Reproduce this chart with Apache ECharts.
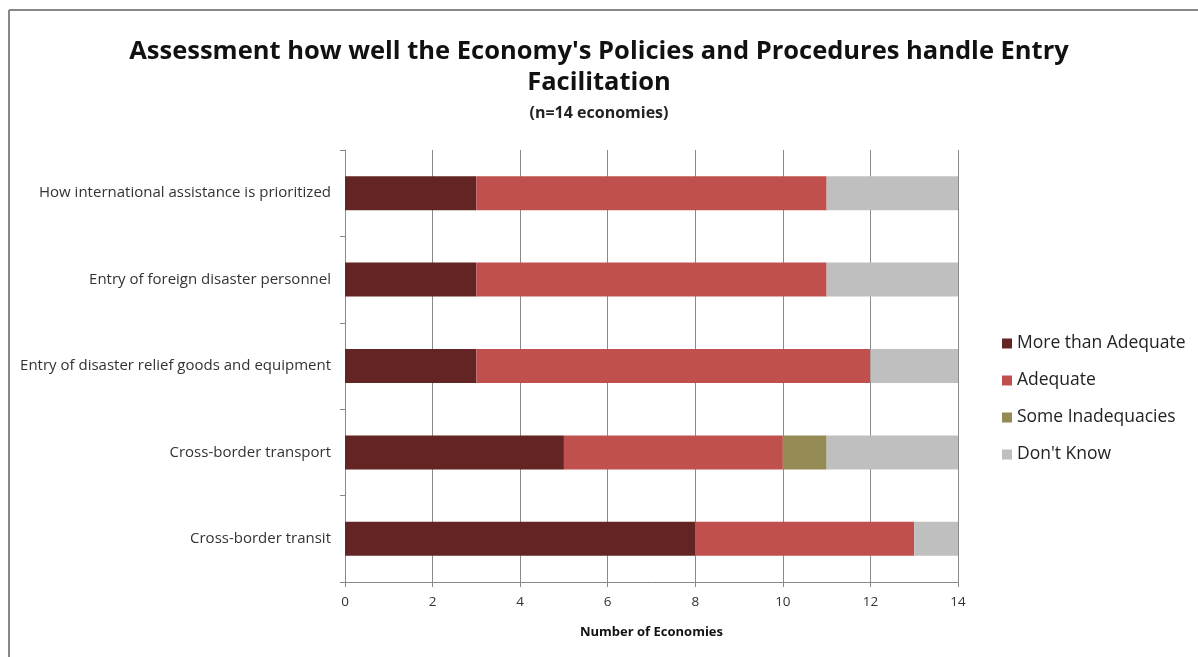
<!DOCTYPE html>
<html>
<head>
<meta charset="utf-8">
<style>
  html, body { margin: 0; padding: 0; background: #fff; }
  #chart { width: 1198px; height: 657px; }
</style>
<script src="https://cdn.jsdelivr.net/npm/echarts@6/dist/echarts.min.js"></script>
</head>
<body>
<div id="chart"></div>
<script>
// Topics, listed bottom to top as they appear on the category axis
const categories = [
  'Cross-border transit',
  'Cross-border transport',
  'Entry of disaster relief goods and equipment',
  'Entry of foreign disaster personnel',
  'How international assistance is prioritized'
];

// Number of economies giving each rating (same order as categories)
const moreThanAdequate = [8, 5, 3, 3, 3];
const adequate         = [5, 5, 9, 8, 8];
const someInadequacies = [0, 1, 0, 0, 0];
const dontKnow         = [1, 3, 2, 3, 3];

const xTicks = { min: 0, max: 14, interval: 2 };

const FONT = '"Open Sans", "Liberation Sans", sans-serif';

const chart = echarts.init(document.getElementById('chart'));

function stackSeries(name, data, color) {
  return {
    name: name,
    type: 'bar',
    stack: 'total',
    barWidth: 34,
    data: data,
    itemStyle: { color: color },
    emphasis: { disabled: true }
  };
}

chart.setOption({
  animation: false,
  textStyle: { fontFamily: FONT },
  title: {
    text: "Assessment how well the Economy's Policies and Procedures handle Entry\nFacilitation",
    subtext: '(n=14 economies)',
    left: 'center',
    top: 31,
    itemGap: 7,
    textStyle: {
      fontFamily: FONT,
      fontSize: 25.5,
      fontWeight: 'bold',
      color: '#111',
      lineHeight: 31
    },
    subtextStyle: {
      fontFamily: FONT,
      fontSize: 16,
      fontWeight: 'bold',
      color: '#222'
    }
  },
  legend: {
    orient: 'vertical',
    left: 997,
    top: 328,
    icon: 'rect',
    itemWidth: 10,
    itemHeight: 10,
    itemGap: 16,
    selectedMode: false,
    textStyle: { fontFamily: FONT, fontSize: 17.5, color: '#222', lineHeight: 21 },
    data: ['More than Adequate', 'Adequate', 'Some Inadequacies', "Don't Know"]
  },
  grid: { left: 345, right: 240, top: 150, bottom: 75, containLabel: false },
  xAxis: {
    type: 'value',
    min: xTicks.min,
    max: xTicks.max,
    interval: xTicks.interval,
    name: 'Number of Economies',
    nameLocation: 'middle',
    nameGap: 44,
    nameTextStyle: { fontFamily: FONT, fontSize: 13, fontWeight: 'bold', color: '#111' },
    axisLine: { show: true, lineStyle: { color: '#888', width: 1 } },
    axisTick: { show: true, length: 5, lineStyle: { color: '#888' } },
    axisLabel: { fontFamily: FONT, fontSize: 13.5, color: '#333', margin: 13 },
    splitLine: { show: true, lineStyle: { color: '#8a8a8a', width: 1 } }
  },
  yAxis: {
    type: 'category',
    data: categories,
    axisLine: { show: true, lineStyle: { color: '#888', width: 1 } },
    axisTick: { show: true, length: 5, alignWithLabel: false, lineStyle: { color: '#888' } },
    axisLabel: { fontFamily: FONT, fontSize: 15, color: '#333', margin: 14 },
    splitLine: { show: false }
  },
  series: [
    stackSeries('More than Adequate', moreThanAdequate, '#632523'),
    stackSeries('Adequate', adequate, '#c0504d'),
    stackSeries('Some Inadequacies', someInadequacies, '#948a54'),
    stackSeries("Don't Know", dontKnow, '#bfbfbf')
  ],
  graphic: [
    { type: 'line', shape: { x1: 9, y1: 10, x2: 1198, y2: 10 }, style: { stroke: '#888', lineWidth: 2 } },
    { type: 'line', shape: { x1: 9, y1: 10, x2: 9, y2: 657 }, style: { stroke: '#888', lineWidth: 2 } }
  ]
});
</script>
</body>
</html>
